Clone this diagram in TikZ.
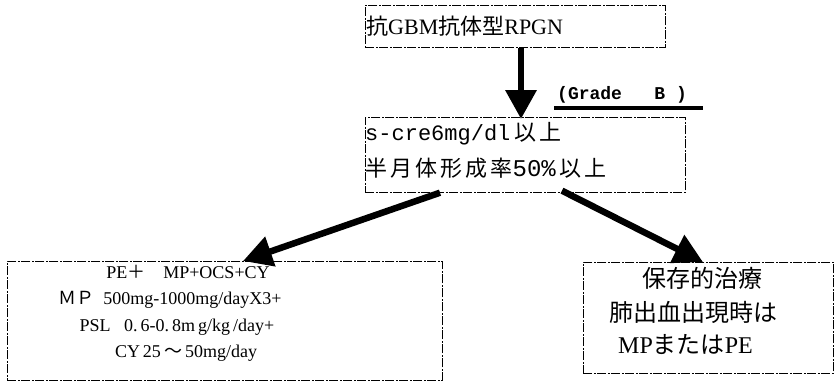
\documentclass[tikz,border=0pt]{standalone}
\usepackage{fontspec}
\setmainfont{Liberation Serif}
\setmonofont{Liberation Mono}
\newfontfamily\cjk{Noto Sans CJK JP}
\newfontfamily\cjksp[LetterSpace=14]{Noto Sans CJK JP}
\usetikzlibrary{arrows.meta,calc}
\tikzset{
  dbox/.style={draw, line width=0.7pt, dash pattern=on 9pt off 1.5pt on 2pt off 1.5pt, rectangle, inner sep=0pt, anchor=north west},
  txt/.style={inner sep=0pt, text=black},
  bigarrow/.style={line width=6.5pt, -{Triangle[width=30pt,length=29pt]}},
  uline/.style={line width=4pt}
}
\begin{document}
\begin{tikzpicture}[x=1pt,y=-1pt]
\useasboundingbox (0,0) rectangle (835,383);
% boxes
\node[dbox, minimum width=300pt, minimum height=42pt] (b1) at (365,5) {};
\node[dbox, minimum width=320pt, minimum height=75pt] (b2) at (365,117) {};
\node[dbox, minimum width=435pt, minimum height=119pt] (b3) at (7,261) {};
\node[dbox, minimum width=250pt, minimum height=111pt] (b4) at (583,262) {};
% texts
\node[txt, anchor=west, font=\fontsize{22}{26}\selectfont] (t1) at (366,26) {{\cjk 抗}GBM{\cjk 抗体型}RPGN};
\node[txt, anchor=west, font=\fontsize{18}{21}\selectfont\ttfamily\bfseries] (g) at (557,95) {(Grade\ \ \ B )};
\node[txt, anchor=west, font=\fontsize{22}{26}\selectfont] (t2a) at (365,134) {{\ttfamily s-cre6mg/dl}\,{\cjksp 以上}};
\node[txt, anchor=west, font=\fontsize{22}{26}\selectfont] (t2b) at (365,168) {{\cjksp 半月体形成率}{\ttfamily\fontsize{24}{26}\selectfont 50\%}\,{\cjksp 以上}};
\node[txt, font=\fontsize{18}{21}\selectfont] (l1) at (188,272) {PE{\cjk ＋}\quad MP+OCS+CY};
\node[txt, font=\fontsize{18}{21}\selectfont] (l2) at (170,300) {{\cjk ＭＰ}\ \ 500mg-1000mg/dayX3+};
\node[txt, font=\fontsize{18}{21}\selectfont] (l3) at (177,327) {PSL\ \ \ 0.\,6-0.\,8m\,g/kg\,/day+};
\node[txt, font=\fontsize{18}{21}\selectfont] (l4) at (186,353) {CY\,25\,{\cjk ～}\,50mg/day};
\node[txt, font=\fontsize{24}{28}\selectfont\cjk] (r1) at (702,278) {保存的治療};
\node[txt, font=\fontsize{24}{28}\selectfont\cjk] (r2) at (693,312) {肺出血出現時は};
\node[txt, anchor=west, font=\fontsize{24}{28}\selectfont] (r3) at (618,345) {MP{\cjk または}PE};
% underline of grade
\draw[uline] ($(g.south west)+(-3,4)$) -- ($(g.south east)+(16,4)$);
% arrows
\draw[bigarrow] ($(b1.south west)+(156,0)$) -- ($(b2.north west)+(156,2)$);
\draw[bigarrow] ($(b2.south west)+(75,0)$) -- ($(b3.north west)+(236,0)$);
\draw[bigarrow] ($(b2.south west)+(197,-2)$) -- ($(b4.north west)+(120,0)$);
\end{tikzpicture}
\end{document}
